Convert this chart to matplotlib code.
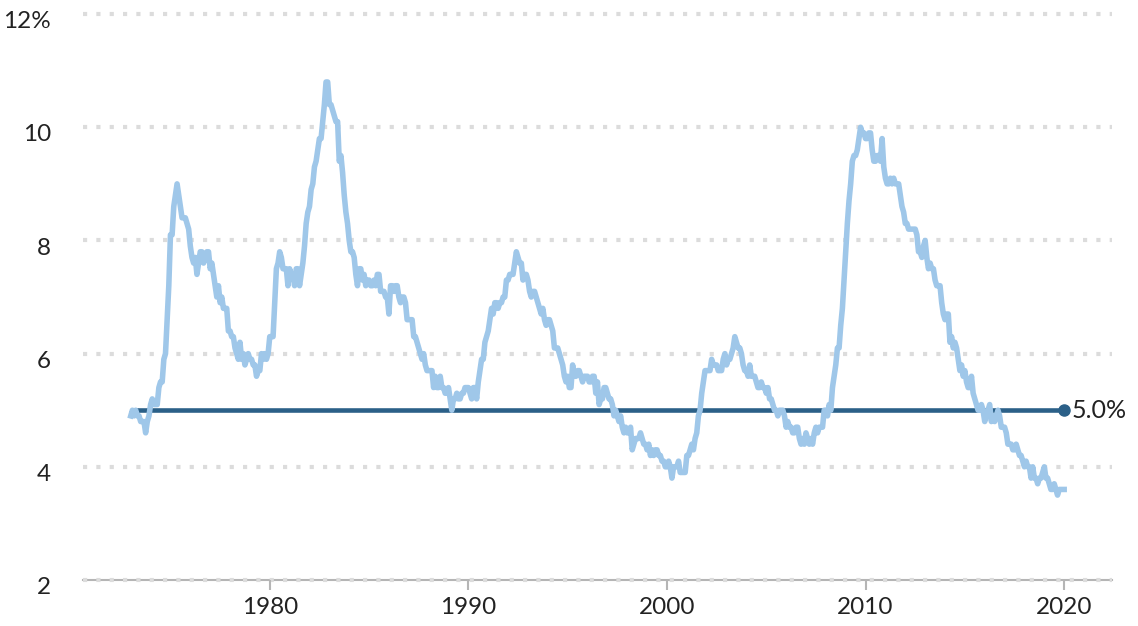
import numpy as np
import matplotlib

matplotlib.use("Agg")
import matplotlib.pyplot as plt
from matplotlib.transforms import ScaledTranslation

# monthly unemployment rate, Jan 1973 - Jan 2020
rate_by_year = {
    1973: [4.9, 5.0, 4.9, 5.0, 4.9, 4.9, 4.8, 4.8, 4.8, 4.6, 4.8, 4.9],
    1974: [5.1, 5.2, 5.1, 5.1, 5.1, 5.4, 5.5, 5.5, 5.9, 6.0, 6.6, 7.2],
    1975: [8.1, 8.1, 8.6, 8.8, 9.0, 8.8, 8.6, 8.4, 8.4, 8.4, 8.3, 8.2],
    1976: [7.9, 7.7, 7.6, 7.7, 7.4, 7.6, 7.8, 7.8, 7.6, 7.7, 7.8, 7.8],
    1977: [7.5, 7.6, 7.4, 7.2, 7.0, 7.2, 6.9, 7.0, 6.8, 6.8, 6.8, 6.4],
    1978: [6.4, 6.3, 6.3, 6.1, 6.0, 5.9, 6.2, 5.9, 6.0, 5.8, 5.9, 6.0],
    1979: [5.9, 5.9, 5.8, 5.8, 5.6, 5.7, 5.7, 6.0, 5.9, 6.0, 5.9, 6.0],
    1980: [6.3, 6.3, 6.3, 6.9, 7.5, 7.6, 7.8, 7.7, 7.5, 7.5, 7.5, 7.2],
    1981: [7.5, 7.4, 7.4, 7.2, 7.5, 7.5, 7.2, 7.4, 7.6, 7.9, 8.3, 8.5],
    1982: [8.6, 8.9, 9.0, 9.3, 9.4, 9.6, 9.8, 9.8, 10.1, 10.4, 10.8, 10.8],
    1983: [10.4, 10.4, 10.3, 10.2, 10.1, 10.1, 9.4, 9.5, 9.2, 8.8, 8.5, 8.3],
    1984: [8.0, 7.8, 7.8, 7.7, 7.4, 7.2, 7.5, 7.5, 7.3, 7.4, 7.2, 7.3],
    1985: [7.3, 7.2, 7.2, 7.3, 7.2, 7.4, 7.4, 7.1, 7.1, 7.1, 7.0, 7.0],
    1986: [6.7, 7.2, 7.2, 7.1, 7.2, 7.2, 7.0, 6.9, 7.0, 7.0, 6.9, 6.6],
    1987: [6.6, 6.6, 6.6, 6.3, 6.3, 6.2, 6.1, 6.0, 5.9, 6.0, 5.8, 5.7],
    1988: [5.7, 5.7, 5.7, 5.4, 5.6, 5.4, 5.4, 5.6, 5.4, 5.4, 5.3, 5.3],
    1989: [5.4, 5.2, 5.0, 5.2, 5.2, 5.3, 5.2, 5.2, 5.3, 5.3, 5.4, 5.4],
    1990: [5.4, 5.3, 5.2, 5.4, 5.4, 5.2, 5.5, 5.7, 5.9, 5.9, 6.2, 6.3],
    1991: [6.4, 6.6, 6.8, 6.7, 6.9, 6.9, 6.8, 6.9, 6.9, 7.0, 7.0, 7.3],
    1992: [7.3, 7.4, 7.4, 7.4, 7.6, 7.8, 7.7, 7.6, 7.6, 7.3, 7.4, 7.4],
    1993: [7.3, 7.1, 7.0, 7.1, 7.1, 7.0, 6.9, 6.8, 6.7, 6.8, 6.6, 6.5],
    1994: [6.6, 6.6, 6.5, 6.4, 6.1, 6.1, 6.1, 6.0, 5.9, 5.8, 5.6, 5.5],
    1995: [5.6, 5.4, 5.4, 5.8, 5.6, 5.6, 5.7, 5.7, 5.6, 5.5, 5.6, 5.6],
    1996: [5.6, 5.5, 5.5, 5.6, 5.6, 5.3, 5.5, 5.1, 5.2, 5.2, 5.4, 5.4],
    1997: [5.3, 5.2, 5.2, 5.1, 4.9, 5.0, 4.9, 4.8, 4.9, 4.7, 4.6, 4.7],
    1998: [4.6, 4.6, 4.7, 4.3, 4.4, 4.5, 4.5, 4.5, 4.6, 4.5, 4.4, 4.4],
    1999: [4.3, 4.4, 4.2, 4.3, 4.2, 4.3, 4.3, 4.2, 4.2, 4.1, 4.1, 4.0],
    2000: [4.0, 4.1, 4.0, 3.8, 4.0, 4.0, 4.0, 4.1, 3.9, 3.9, 3.9, 3.9],
    2001: [4.2, 4.2, 4.3, 4.4, 4.3, 4.5, 4.6, 4.9, 5.0, 5.3, 5.5, 5.7],
    2002: [5.7, 5.7, 5.7, 5.9, 5.8, 5.8, 5.8, 5.7, 5.7, 5.7, 5.9, 6.0],
    2003: [5.8, 5.9, 5.9, 6.0, 6.1, 6.3, 6.2, 6.1, 6.1, 6.0, 5.8, 5.7],
    2004: [5.7, 5.6, 5.8, 5.6, 5.6, 5.6, 5.5, 5.4, 5.4, 5.5, 5.4, 5.4],
    2005: [5.3, 5.4, 5.2, 5.2, 5.1, 5.0, 5.0, 4.9, 5.0, 5.0, 5.0, 4.9],
    2006: [4.7, 4.8, 4.7, 4.7, 4.6, 4.6, 4.7, 4.7, 4.5, 4.4, 4.5, 4.4],
    2007: [4.6, 4.5, 4.4, 4.5, 4.4, 4.6, 4.7, 4.6, 4.7, 4.7, 4.7, 5.0],
    2008: [5.0, 4.9, 5.1, 5.0, 5.4, 5.6, 5.8, 6.1, 6.1, 6.5, 6.8, 7.3],
    2009: [7.8, 8.3, 8.7, 9.0, 9.4, 9.5, 9.5, 9.6, 9.8, 10.0, 9.9, 9.9],
    2010: [9.8, 9.8, 9.9, 9.9, 9.6, 9.4, 9.4, 9.5, 9.5, 9.4, 9.8, 9.3],
    2011: [9.1, 9.0, 9.0, 9.1, 9.0, 9.1, 9.0, 9.0, 9.0, 8.8, 8.6, 8.5],
    2012: [8.3, 8.3, 8.2, 8.2, 8.2, 8.2, 8.2, 8.1, 7.8, 7.8, 7.7, 7.9],
    2013: [8.0, 7.7, 7.5, 7.6, 7.5, 7.5, 7.3, 7.2, 7.2, 7.2, 6.9, 6.7],
    2014: [6.6, 6.7, 6.7, 6.2, 6.3, 6.1, 6.2, 6.1, 5.9, 5.7, 5.8, 5.6],
    2015: [5.7, 5.5, 5.4, 5.4, 5.6, 5.3, 5.2, 5.1, 5.0, 5.0, 5.1, 5.0],
    2016: [4.8, 4.9, 5.0, 5.1, 4.8, 4.9, 4.8, 4.9, 5.0, 4.9, 4.7, 4.7],
    2017: [4.7, 4.6, 4.4, 4.4, 4.4, 4.3, 4.3, 4.4, 4.3, 4.2, 4.2, 4.1],
    2018: [4.0, 4.1, 4.0, 4.0, 3.8, 4.0, 3.8, 3.8, 3.7, 3.8, 3.8, 3.9],
    2019: [4.0, 3.8, 3.8, 3.7, 3.6, 3.6, 3.7, 3.6, 3.5, 3.6, 3.6, 3.6],
    2020: [3.6],
}

natural_rate = 5.0
natural_start, natural_end = 1973, 2020
y_ticks = [2, 4, 6, 8, 10, 12]
y_labels = ["2", "4", "6", "8", "10", "12%"]
x_ticks = [1980, 1990, 2000, 2010, 2020]

dates = []
rates = []
for yr, vals in rate_by_year.items():
    for m, v in enumerate(vals):
        dates.append(yr + m / 12)
        rates.append(v)

plt.rcParams["font.family"] = ["Lato", "DejaVu Sans"]

fig = plt.figure(figsize=(11.38, 6.26), dpi=100)
ax = fig.add_axes([0.073, 0.0735, 0.904, 0.904])

for y in y_ticks:
    ax.axhline(y, color="#dcdcdc", lw=3, ls=(0, (1, 2.2)), zorder=0.5, clip_on=False)

ax.plot([natural_start, natural_end], [natural_rate, natural_rate],
        color="#2b6088", lw=3.3, solid_capstyle="butt", zorder=2)
ax.plot([natural_end], [natural_rate], "o", color="#2b6088", ms=8, zorder=2)
ax.plot(dates, rates, color="#9fc7e9", lw=4, solid_joinstyle="round", zorder=3)
ax.text(natural_end + 0.35, natural_rate, "5.0%", va="center", ha="left",
        fontsize=18, color="#222222")

ax.set_xlim(1970.6, 2022.4)
ax.set_ylim(2, 12)
ax.set_yticks(y_ticks)
ax.set_yticklabels(y_labels)
ax.set_xticks(x_ticks)

for s in ["top", "right", "left"]:
    ax.spines[s].set_visible(False)
ax.spines["bottom"].set_color("#b5b5b5")
ax.spines["bottom"].set_linewidth(1.5)
ax.spines["bottom"].set_zorder(0.4)
ax.tick_params(axis="y", length=0, pad=23, labelsize=17.5, labelcolor="#222222")
ax.tick_params(axis="x", length=7, width=1.5, color="#b5b5b5", pad=5,
               labelsize=17.5, labelcolor="#222222")

# labels sit a little below their gridlines in the original
shift = ScaledTranslation(0, -4 / 72, fig.dpi_scale_trans)
for lbl in ax.get_yticklabels():
    lbl.set_transform(lbl.get_transform() + shift)

fig.savefig("out.png", dpi=100)
